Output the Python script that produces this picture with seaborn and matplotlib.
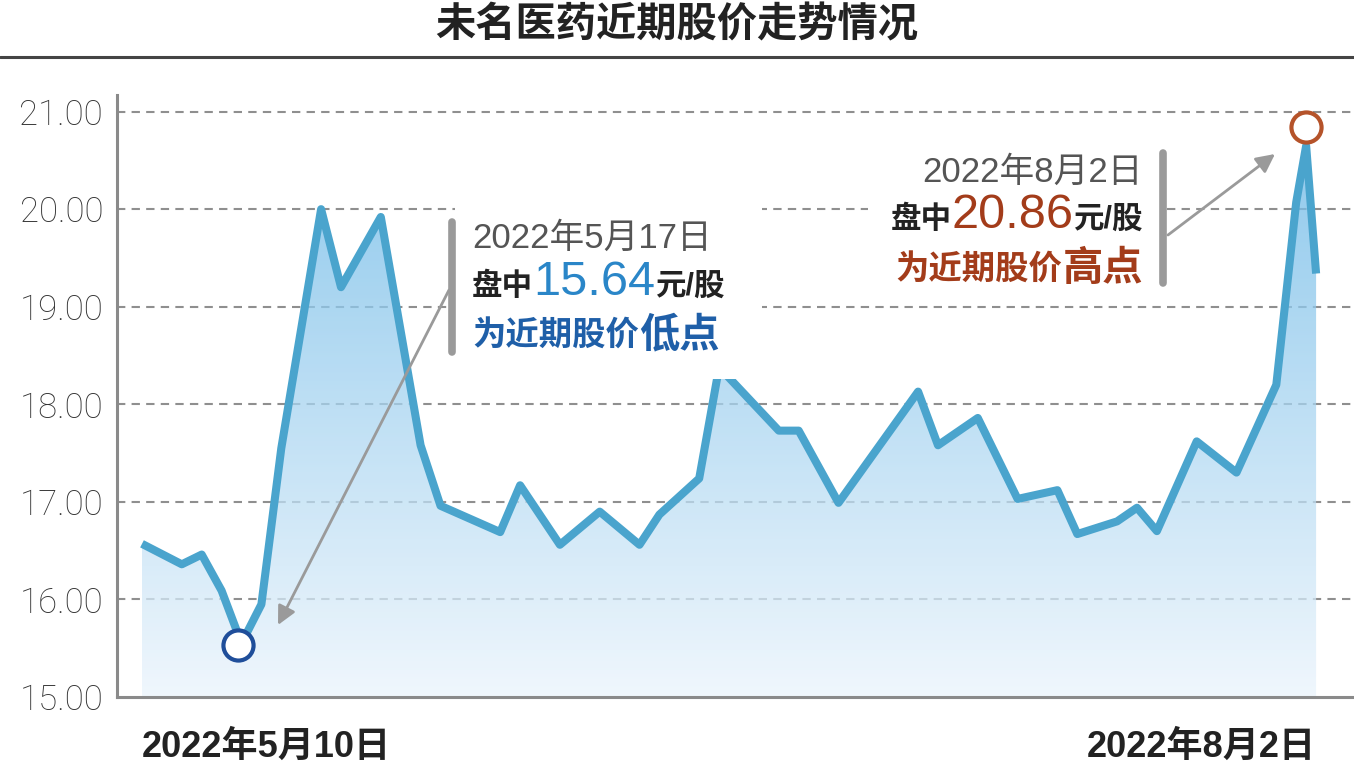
import matplotlib
matplotlib.use('Agg')
import matplotlib.pyplot as plt
from matplotlib.lines import Line2D
from matplotlib.patches import Rectangle, PathPatch
from matplotlib.colors import LinearSegmentedColormap
from matplotlib.transforms import IdentityTransform
import numpy as np
import seaborn as sns

# trading-day index (0 = 2022-05-10) and price at each visible vertex of the line
days = [0, 2, 3, 4, 5, 6, 7, 9, 10, 12, 14, 15, 18, 19, 21, 23, 25, 26, 28, 29,
        32, 33, 35, 39, 40, 42, 44, 46, 47, 49, 50, 51, 53, 55, 57, 58, 58.5, 59]
prices = [16.57, 16.36, 16.46, 16.09, 15.55, 15.95, 17.55, 20.00, 19.20, 19.92,
          17.58, 16.96, 16.69, 17.17, 16.56, 16.90, 16.56, 16.87, 17.24, 18.38,
          17.73, 17.73, 16.99, 18.13, 17.58, 17.86, 17.03, 17.12, 16.67, 16.80,
          16.94, 16.70, 17.62, 17.30, 18.20, 20.07, 20.65, 19.34]
yticks = [15, 16, 17, 18, 19, 20, 21]
xlabels = ['2022年5月10日', '2022年8月2日']
title = '未名医药近期股价走势情况'
low_day, low_price = 4.8, 15.53
high_day, high_price = 58.5, 20.84

W, H = 1354, 770
sns.set_style('white')
plt.rcParams['font.family'] = ['Liberation Sans', 'Noto Sans CJK SC', 'DejaVu Sans']

fig = plt.figure(figsize=(W / 100, H / 100), dpi=100)
ax = fig.add_axes([117 / W, 73 / H, 1237 / W, 602 / H])

# dashed grid under the area
for v in yticks[1:]:
    ax.axhline(v, color='#8f8f8f', lw=1.5, ls=(0, (4, 3)), zorder=0.5)

# gradient area under the line
poly = ax.fill_between(days, prices, 15, color='none', lw=0)
clip = PathPatch(poly.get_paths()[0], transform=ax.transData, fc='none', ec='none')
ax.add_patch(clip)
cmap = LinearSegmentedColormap.from_list('fill', ['#ebf4fc', '#66b6e6'])
grad = np.linspace(1, 0, 256).reshape(-1, 1)
im = ax.imshow(grad, cmap=cmap, aspect='auto', extent=[days[0], days[-1], 15, 20.9],
               origin='upper', alpha=0.75, zorder=1)
im.set_clip_path(clip)

sns.lineplot(x=days, y=prices, ax=ax, color='#4aa4cd', lw=5.8, zorder=3,
             solid_joinstyle='round', solid_capstyle='butt')

ax.scatter([low_day], [low_price], s=470, facecolor='white', edgecolor='#1f4e9a',
           lw=3, zorder=7, clip_on=False)
ax.scatter([high_day], [high_price], s=470, facecolor='white', edgecolor='#b5532a',
           lw=3, zorder=7, clip_on=False)

ax.set_xlim(-25 / 19.9, (W - 142) / 19.9)
ax.set_ylim(15, 21.17)
ax.set_yticks(yticks)
ax.set_yticklabels([f'{v:.2f}' for v in yticks])
for lbl in ax.get_yticklabels():
    lbl.set_fontfamily('Roboto')
    lbl.set_fontweight('light')
    lbl.set_fontsize(25)
    lbl.set_color('#333333')
ax.tick_params(axis='y', length=0, pad=10)
ax.set_xticks([days[0], days[-1]])
ax.set_xticklabels(xlabels, fontsize=26, fontweight='bold', color='#222222')
xl = ax.get_xticklabels()
xl[0].set_ha('left')
xl[1].set_ha('right')
ax.tick_params(axis='x', length=0, pad=24)
sns.despine(ax=ax)
for side in ['left', 'bottom']:
    ax.spines[side].set_color('#8a8a8a')
    ax.spines[side].set_linewidth(2.2)

# white boxes behind the notes
for x0, y0, x1, y1 in [(455, 198, 762, 379), (868, 148, 1160, 292)]:
    ax.add_patch(Rectangle((x0 / W, 1 - y1 / H), (x1 - x0) / W, (y1 - y0) / H,
                           transform=fig.transFigure, fc='white', ec='none',
                           zorder=4, clip_on=False))

# note bars and arrows
for x, y0, y1 in [(452, 222, 352), (1163, 153, 283)]:
    fig.add_artist(Line2D([x / W, x / W], [1 - y0 / H, 1 - y1 / H], color='#9a9a9a', lw=5.5))
for (sx, sy), (tx, ty) in [((449, 290), (278, 625)), ((1168, 235), (1275, 154))]:
    ax.annotate('', xy=(tx, H - ty), xycoords='figure pixels', xytext=(sx, H - sy),
                textcoords='figure pixels', zorder=8,
                arrowprops=dict(arrowstyle='-|>', color='#9a9a9a', lw=2,
                                mutation_scale=28, shrinkA=0, shrinkB=0))

fig.text(0.5, 1 - 25 / H, title, ha='center', va='center', fontsize=29,
         fontweight='bold', color='#222222')
fig.add_artist(Line2D([0, 1], [1 - 57 / H, 1 - 57 / H], color='#444444', lw=2.2))

fig.canvas.draw()
rend = fig.canvas.get_renderer()


def run(pieces, x, y, align='left'):
    arts = [fig.text(0, 0, s, fontsize=fs, color=c, fontweight=fw, va='baseline',
                     ha='left', transform=IdentityTransform(), zorder=10)
            for s, fs, c, fw in pieces]
    widths = [t.get_window_extent(rend).width for t in arts]
    cur = x if align == 'left' else x - sum(widths)
    for t, w in zip(arts, widths):
        t.set_position((cur, H - y))
        cur += w


gray, dark = '#555555', '#222222'
blue, blue2 = '#2a86c8', '#1f5fa8'
brown = '#a33c1a'

run([('2022年5月17日', 25, gray, 'normal')], 472, 248)
run([('盘中', 22, dark, 'bold'), ('15.64', 35, blue, 'normal'), ('元/股', 22, dark, 'bold')], 472, 295)
run([('为近期股价', 24, blue2, 'bold'), ('低点', 29, blue2, 'bold')], 472, 346)

run([('2022年8月2日', 25, gray, 'normal')], 1143, 182, 'right')
run([('盘中', 22, dark, 'bold'), ('20.86', 35, brown, 'normal'), ('元/股', 22, dark, 'bold')], 1143, 228, 'right')
run([('为近期股价', 24, brown, 'bold'), ('高点', 29, brown, 'bold')], 1143, 280, 'right')

fig.savefig('out.png', dpi=100)
